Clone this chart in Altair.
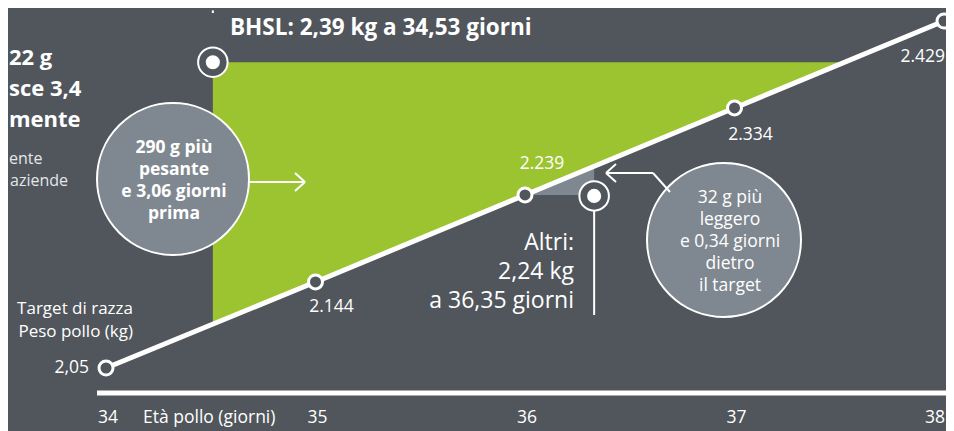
import altair as alt
import pandas as pd

BG = "#50565c"
GREEN = "#9cc431"
GREY = "#7f8890"
FONT = "Open Sans"

# ---- data ----
days = [34, 35, 36, 37, 38]
target_weight = [2.05, 2.144, 2.239, 2.334, 2.429]
point_labels = ["2,05", "2.144", "2.239", "2.334", "2.429"]
tick_days = [34, 35, 36, 37, 38]
tick_labels = ["34", "35", "36", "37", "38"]

green_days = [34.51, 35, 36, 37, 37.52]
green_low = [2.098, 2.144, 2.239, 2.334, 2.384]
bhsl_day = 34.51
bhsl_weight = 2.384

grey_days = [36.0, 36.33]
grey_high = [2.239, 2.270]
altri_day = 36.33
altri_weight = 2.238

W, H = 938, 384
xs = alt.Scale(domain=[33.5322, 38.0095], nice=False, zero=False)
ys = alt.Scale(domain=[2.0238, 2.4432], nice=False, zero=False)

line_df = pd.DataFrame({"d": days, "w": target_weight, "lab": point_labels})
green_df = pd.DataFrame({"d": green_days, "w": green_low, "top": [bhsl_weight] * len(green_days)})
grey_df = pd.DataFrame({"d": grey_days, "w": grey_high, "base": [grey_high[0]] * len(grey_days)})
tick_df = pd.DataFrame({"d": tick_days, "lab": tick_labels})
one = pd.DataFrame({"k": [0]})

X = lambda f: alt.X(f, type="quantitative", scale=xs, axis=None)
Y = lambda f: alt.Y(f, type="quantitative", scale=ys, axis=None)

layers = []

# green area
layers.append(alt.Chart(green_df).mark_area(color=GREEN, opacity=1).encode(
    x=X("d"), y=Y("w"), y2="top"))
# small grey triangle
layers.append(alt.Chart(grey_df).mark_area(color=GREY, opacity=1).encode(
    x=X("d"), y=Y("w"), y2="base"))
# target line
layers.append(alt.Chart(line_df).mark_line(color="white", strokeWidth=5).encode(
    x=X("d"), y=Y("w")))
# target points
layers.append(alt.Chart(line_df).mark_circle(color=BG, stroke="white", strokeWidth=3,
                                             size=196, opacity=1).encode(
    x=X("d"), y=Y("w")))

# point value labels
offsets = [(-17, 0, "right"), (16, 25, "center"), (17, -31, "center"),
           (16, 27, "center"), (1, 36, "right")]
for i, (dx, dy, al) in enumerate(offsets):
    layers.append(alt.Chart(line_df.iloc[[i]]).mark_text(
        color="white", font=FONT, fontSize=17.5, dx=dx, dy=dy, align=al,
        baseline="middle").encode(x=X("d"), y=Y("w"), text="lab"))

# BHSL marker
layers.append(alt.Chart(one).mark_rule(color="white", strokeWidth=2).encode(
    x=alt.X(datum=bhsl_day, scale=xs, axis=None), y=alt.value(5),
    y2=alt.Y2(datum=bhsl_weight)))
layers.append(alt.Chart(one).mark_circle(color=BG, stroke="white", strokeWidth=2,
                                         size=870, opacity=1).encode(
    x=alt.X(datum=bhsl_day, scale=xs, axis=None), y=alt.Y(datum=bhsl_weight, scale=ys, axis=None)))
layers.append(alt.Chart(one).mark_circle(color="white", size=200, opacity=1).encode(
    x=alt.X(datum=bhsl_day, scale=xs, axis=None), y=alt.Y(datum=bhsl_weight, scale=ys, axis=None)))

# Altri marker
layers.append(alt.Chart(one).mark_rule(color="white", strokeWidth=2).encode(
    x=alt.X(datum=altri_day, scale=xs, axis=None), y=alt.Y(datum=altri_weight, scale=ys, axis=None),
    y2=alt.value(307)))
layers.append(alt.Chart(one).mark_circle(color=BG, stroke="white", strokeWidth=2,
                                         size=870, opacity=1).encode(
    x=alt.X(datum=altri_day, scale=xs, axis=None), y=alt.Y(datum=altri_weight, scale=ys, axis=None)))
layers.append(alt.Chart(one).mark_circle(color="white", size=200, opacity=1).encode(
    x=alt.X(datum=altri_day, scale=xs, axis=None), y=alt.Y(datum=altri_weight, scale=ys, axis=None)))

# big grey bubbles
layers.append(alt.Chart(one).mark_circle(color=GREY, stroke="white", strokeWidth=2,
                                         size=152 * 152, opacity=1).encode(
    x=alt.value(165), y=alt.value(171)))
layers.append(alt.Chart(one).mark_circle(color=GREY, stroke="white", strokeWidth=2,
                                         size=154 * 154, opacity=1).encode(
    x=alt.value(716), y=alt.value(232)))

# arrows
def rule(x1, y1, x2, y2, w=2):
    return alt.Chart(one).mark_rule(color="white", strokeWidth=w).encode(
        x=alt.value(x1), y=alt.value(y1), x2=alt.value(x2), y2=alt.value(y2))

layers += [rule(241, 174, 297, 174), rule(287, 165, 297, 174), rule(287, 183, 297, 174)]
layers += [rule(598, 165, 645, 165), rule(645, 165, 662, 184),
           rule(608, 156, 598, 165), rule(608, 174, 598, 165)]

# axis line
layers.append(rule(89, 385, 938, 385, 5))

# tick labels
layers.append(alt.Chart(tick_df.iloc[:4]).mark_text(color="white", font=FONT, fontSize=17.5,
                                                    baseline="middle", dx=2).encode(
    x=X("d"), y=alt.value(410), text="lab"))
layers.append(alt.Chart(tick_df.iloc[4:]).mark_text(color="white", font=FONT, fontSize=17.5,
                                                    baseline="middle", align="right",
                                                    dx=1).encode(
    x=X("d"), y=alt.value(410), text="lab"))


def text(s, x, y, size=16, weight="normal", align="left", color="white", lh=None):
    kw = dict(color=color, font=FONT, fontSize=size, fontWeight=weight, align=align,
              baseline="middle", text=s)
    if lh is not None:
        kw["lineHeight"] = lh
    return alt.Chart(one).mark_text(**kw).encode(x=alt.value(x), y=alt.value(y))


layers += [
    text("Età pollo (giorni)", 135, 410, size=17.5),
    text("Target di razza", 125, 301, size=17, align="right"),
    text("Peso pollo (kg)", 125, 324, size=17, align="right"),
    text("BHSL: 2,39 kg a 34,53 giorni", 222, 20, size=22.5, weight="bold"),
    text(["Altri:", "2,24 kg", "a 36,35 giorni"], 566, 235, size=23, align="right", lh=29),
    text(["290 g più", "pesante", "e 3,06 giorni", "prima"], 166, 140, size=17.5,
         weight="bold", align="center", lh=22),
    text(["32 g più", "leggero", "e 0,34 giorni", "dietro", "il target"], 722, 190,
         size=17.5, align="center", lh=22),
    text("22 g", 1, 50, size=22, weight="bold"),
    text("sce 3,4", 1, 81, size=22, weight="bold"),
    text("mente", 1, 112, size=22, weight="bold"),
    text("ente", 1, 151, size=16, color="#e4e6e8"),
    text("aziende", 2, 173, size=16, color="#e4e6e8"),
]

chart = alt.layer(*layers).properties(
    width=W, height=H,
    background=BG,
    padding={"left": 0, "top": 0, "right": 0, "bottom": 40},
    autosize=alt.AutoSizeParams(type="none"),
).configure_view(stroke=None)

chart.save("out.html", embed_options={"renderer": "svg", "actions": False})
